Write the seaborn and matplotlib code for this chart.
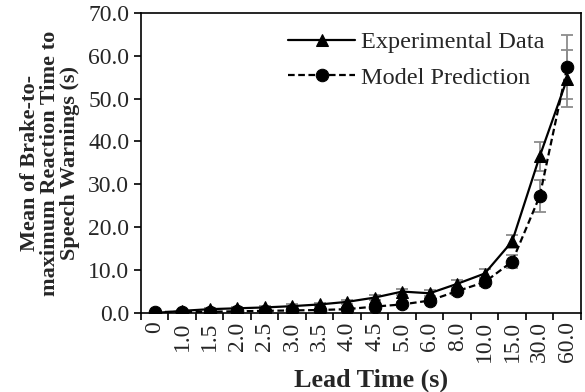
import numpy as np
import pandas as pd
import matplotlib.pyplot as plt
from matplotlib import font_manager
import seaborn as sns

# ---------- data ----------
lead_times = ["0", "1.0", "1.5", "2.0", "2.5", "3.0", "3.5", "4.0",
              "4.5", "5.0", "6.0", "8.0", "10.0", "15.0", "30.0", "60.0"]
experimental = [0.0, 0.5, 0.9, 1.1, 1.3, 1.6, 2.0, 2.6,
                3.6, 5.0, 4.6, 6.8, 9.2, 16.7, 36.5, 54.6]
exp_err = [0.3, 0.3, 0.3, 0.3, 0.3, 0.4, 0.4, 0.5,
           0.6, 0.7, 0.7, 0.9, 1.1, 1.6, 3.3, 6.6]
model = [0.3, 0.2, 0.3, 0.4, 0.5, 0.6, 0.7, 0.9,
         1.5, 2.0, 2.9, 5.1, 7.2, 12.0, 27.2, 57.3]
model_err = [0.2, 0.2, 0.2, 0.2, 0.2, 0.3, 0.3, 0.3,
             0.4, 0.5, 0.6, 0.8, 1.0, 1.5, 3.7, 7.4]

idx = np.arange(len(lead_times))
df = pd.DataFrame({
    "pos": np.concatenate([idx, idx]),
    "value": experimental + model,
    "series": ["Experimental Data"] * len(idx) + ["Model Prediction"] * len(idx),
})

# ---------- plot ----------
sns.set_style("ticks")

# Times-like serif; STIXGeneral ships with matplotlib as a fallback
installed = {f.name for f in font_manager.fontManager.ttflist}
serif = next(n for n in ["Liberation Serif", "Tinos", "Nimbus Roman",
                         "TeX Gyre Termes", "STIXGeneral", "DejaVu Serif"]
             if n in installed)
plt.rcParams["font.family"] = [serif, "DejaVu Serif"]

fig = plt.figure(figsize=(5.85, 3.92), dpi=100)
ax = fig.add_axes([0.241, 0.2015, 0.752, 0.766])

# gray error bars first so markers sit on top
ax.errorbar(idx, model, yerr=model_err, fmt="none", ecolor="#8c8c8c",
            elinewidth=1.3, capsize=4, capthick=1.3, zorder=1)
ax.errorbar(idx, experimental, yerr=exp_err, fmt="none", ecolor="#8c8c8c",
            elinewidth=1.3, capsize=4, capthick=1.3, zorder=1)

sns.lineplot(data=df, x="pos", y="value", hue="series", style="series",
             palette=["black", "black"], markers=["^", "o"],
             dashes=[(None, None), (3, 1.6)], markersize=9,
             markeredgecolor="black", linewidth=1.6, ax=ax, zorder=3)

ax.set_xlim(-0.5, 15.5)
ax.set_ylim(0, 70)
ax.set_yticks(np.arange(0, 71, 10))
ax.set_yticklabels([f"{v:.1f}" for v in np.arange(0, 71, 10)], fontsize=17)

# ticks between categories, labels at category centres
ax.set_xticks(np.arange(-0.5, 16, 1))
ax.set_xticklabels([])
ax.set_xticks(idx, minor=True)
ax.set_xticklabels(lead_times, minor=True, rotation=90, fontsize=17)
ax.tick_params(axis="x", which="minor", length=0, pad=6)
ax.tick_params(axis="both", which="major", direction="out", length=5,
               width=1.2, color="black")

for s in ax.spines.values():
    s.set_linewidth(1.2)
    s.set_color("black")

ax.set_xlabel("Lead Time (s)", fontsize=18.8, fontweight="bold")
ax.xaxis.set_label_coords(0.523, -0.185)
ax.set_ylabel("Mean of Brake-to-\nmaximum Reaction Time to\nSpeech Warnings (s)",
              fontsize=16, fontweight="bold", linespacing=1.0, labelpad=6)

leg = ax.legend(loc="upper left", bbox_to_anchor=(0.285, 1.012), frameon=False,
                fontsize=17.5, handlelength=2.75, handletextpad=0.25,
                labelspacing=0.57, title=None)

fig.savefig("out.png", dpi=100)
